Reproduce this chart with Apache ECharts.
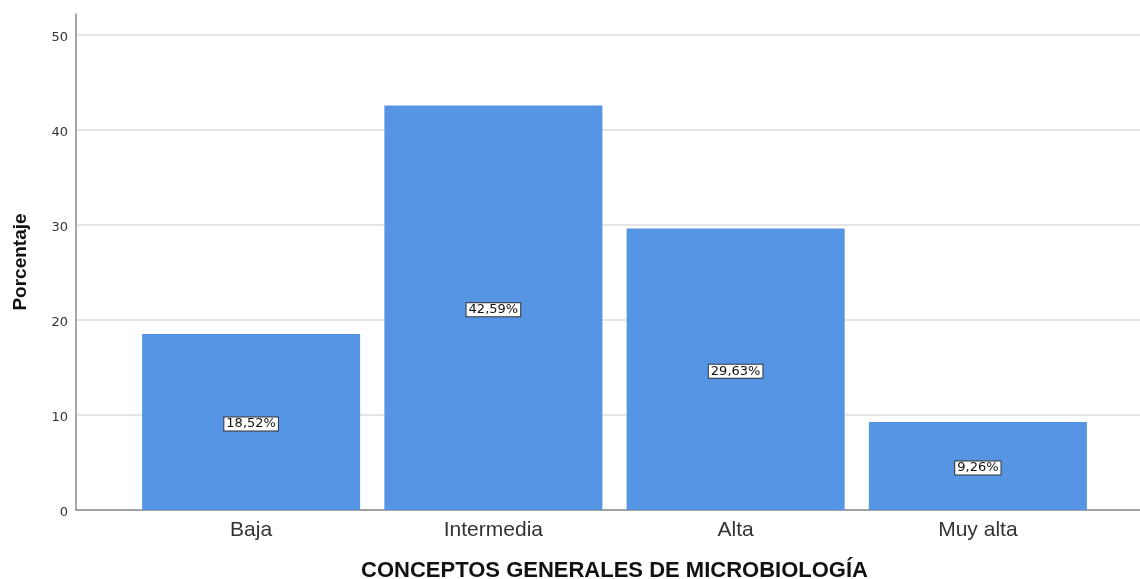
<!DOCTYPE html>
<html>
<head>
<meta charset="utf-8">
<title>Conceptos generales de microbiología</title>
<script src="https://cdn.jsdelivr.net/npm/echarts@6/dist/echarts.min.js"></script>
<style>
  html, body { margin: 0; padding: 0; background: #fff; }
  #chart { width: 1140px; height: 579px; }
</style>
</head>
<body>
<div id="chart"></div>
<script>
// Categories and percentages
const categories = ['Baja', 'Intermedia', 'Alta', 'Muy alta'];
const percentages = [18.52, 42.59, 29.63, 9.26];
const yTicks = [0, 10, 20, 30, 40, 50];

const FONT = '"Liberation Sans", Arial, sans-serif';
const SMALL_FONT = '"DejaVu Sans", Verdana, sans-serif';
const yMin = yTicks[0];
const yMax = yTicks[yTicks.length - 1];
const yStep = yTicks[1] - yTicks[0];

const fmtPct = v => v.toFixed(2).replace('.', ',') + '%';

const chart = echarts.init(document.getElementById('chart'), null, { renderer: 'canvas' });

chart.setOption({
  animation: false,
  backgroundColor: '#ffffff',
  grid: [
    // frame with gridlines and tick labels
    { left: 76, right: 0, top: 35, bottom: 69, outerBoundsMode: 'none', containLabel: false },
    // frame for the taller vertical axis line and its title
    { left: 76, right: 0, top: 14, bottom: 69, outerBoundsMode: 'none', containLabel: false },
    // bar area
    { left: 130, right: 41, top: 35, bottom: 69, outerBoundsMode: 'none', containLabel: false }
  ],
  xAxis: [
    {
      gridIndex: 0, type: 'value', min: 0, max: 1,
      axisLine: { show: true, onZero: false, lineStyle: { color: '#8a8a8a', width: 1.5 } },
      axisTick: { show: false }, axisLabel: { show: false }, splitLine: { show: false }
    },
    {
      gridIndex: 1, type: 'value', min: 0, max: 1, show: false
    },
    {
      gridIndex: 2, type: 'category', data: categories,
      axisLine: { show: false }, axisTick: { show: false },
      axisLabel: { fontFamily: FONT, fontSize: 21, color: '#333', margin: 10 },
      name: 'CONCEPTOS GENERALES DE MICROBIOLOGÍA',
      nameLocation: 'middle', nameGap: 50,
      nameTextStyle: { fontFamily: FONT, fontSize: 22, fontWeight: 'bold', color: '#111' }
    }
  ],
  yAxis: [
    {
      gridIndex: 0, type: 'value', min: yMin, max: yMax, interval: yStep,
      axisLine: { show: false }, axisTick: { show: false },
      axisLabel: {
        fontFamily: SMALL_FONT, fontSize: 13, color: '#333', margin: 8,
        verticalAlign: 'top', lineHeight: 5
      },
      splitLine: { show: true, lineStyle: { color: '#dcdcdc', width: 1.5 } }
    },
    {
      gridIndex: 1, type: 'value', min: 0, max: 1,
      axisLine: { show: true, lineStyle: { color: '#8a8a8a', width: 1.5 } },
      axisTick: { show: false }, axisLabel: { show: false }, splitLine: { show: false },
      name: 'Porcentaje', nameLocation: 'middle', nameGap: 46, nameRotate: 90,
      nameTextStyle: { fontFamily: FONT, fontSize: 19, fontWeight: 'bold', color: '#111' }
    },
    {
      gridIndex: 2, type: 'value', min: yMin, max: yMax, interval: yStep, show: false
    }
  ],
  series: [
    {
      type: 'bar',
      xAxisIndex: 2, yAxisIndex: 2,
      data: percentages,
      barWidth: '90%',
      itemStyle: { color: '#5595e4' },
      label: {
        show: true,
        position: 'inside',
        offset: [0, 2],
        formatter: p => fmtPct(p.value),
        fontFamily: SMALL_FONT, fontSize: 13, color: '#111',
        lineHeight: 12,
        backgroundColor: '#ffffff',
        borderColor: '#333333', borderWidth: 1,
        padding: [1, 2, 0, 2]
      }
    }
  ]
});
</script>
</body>
</html>
